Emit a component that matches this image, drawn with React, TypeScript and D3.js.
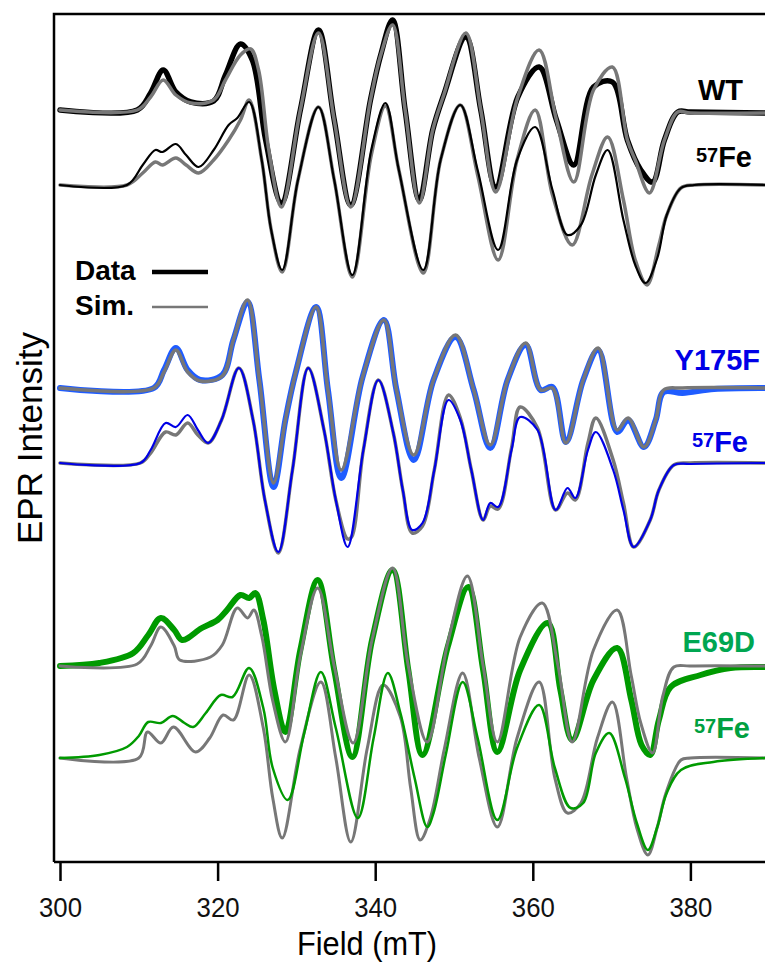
import React, { useEffect, useRef } from "react";
import * as d3 from "d3";

// X-band EPR spectra: data vs. simulation for WT, Y175F and E69D (natural and 57Fe)

type Pt = [number, number]; // [field mT, intensity a.u. relative to trace baseline]

const xTicks = [300, 320, 340, 360, 380];

const wtData: Pt[] = [
  [300, 0], [309.8, 0], [311.5, 1.7], [313.1, 4.0], [314.7, 1.8], [316.6, 0.8], [319.5, 0.9],
  [321.0, 3.5], [322.9, 6.6], [324.4, 5.0], [326.1, -3.0], [328.1, -9.3], [330.5, 0], [332.8, 8.0],
  [334.8, -1.0], [336.9, -9.5], [339.4, 1.0], [340.7, 5.5], [342.2, 9.0], [343.8, 0], [345.6, -9.0],
  [347.3, -2.0], [348.7, 1.5], [351.5, 7.3], [353.4, 0], [355.3, -7.7], [358.1, 1.3], [360.8, 4.3],
  [363.0, -1.0], [365.2, -5.5], [367.7, 2.3], [370.1, 2.8], [372.0, -3.0], [373.7, -6.0],
  [375.2, -7.2], [376.7, -3.0], [378.4, -0.2], [380.0, -0.2], [389.5, -0.3],
];

const wtSim: Pt[] = [
  [300, 0], [309.8, 0], [311.5, 1.3], [313.1, 3.0], [314.7, 1.5], [316.6, 0.7], [319.5, 1.0],
  [321.0, 3.0], [322.9, 5.5], [324.2, 6.1], [325.2, 4.0], [326.5, -4.0], [328.1, -9.7], [330.5, 0],
  [332.8, 7.7], [334.8, -1.0], [336.9, -9.7], [339.4, 1.0], [340.7, 5.5], [342.2, 8.5], [343.8, 0],
  [345.6, -9.3], [347.3, -2.0], [348.7, 1.5], [351.5, 7.7], [353.4, 0], [355.3, -8.2], [358.1, 1.3],
  [360.8, 6.0], [363.0, -1.0], [365.2, -7.2], [367.7, 2.0], [370.1, 4.3], [372.0, -3.0],
  [373.0, -5.0], [374.8, -8.3], [376.7, -3.0], [378.4, -0.2], [380.0, -0.3], [389.5, -0.3],
];

const wtFeData: Pt[] = [
  [300, 0], [308.5, 0], [310.5, 2.0], [312.1, 3.5], [313.0, 3.3], [314.7, 4.1], [316.0, 3.0],
  [317.6, 1.8], [319.5, 3.5], [321.4, 6.0], [322.5, 6.7], [324.0, 8.3], [325.6, 2.5], [326.8, -4.5],
  [328.2, -8.5], [330.2, 0.5], [332.8, 7.8], [334.8, 0.5], [337.1, -9.0], [339.5, 3.5], [341.3, 8.2],
  [343.0, 1.5], [346.1, -8.5], [348.3, 2.5], [350.8, 8.0], [353.0, 1.5], [355.6, -6.5], [358.0, 2.5],
  [360.3, 5.8], [362.5, -0.5], [364.4, -5.0], [366.1, -4.0], [368.0, 1.0], [369.5, 3.5],
  [371.5, -3.5], [373.0, -8.0], [374.3, -9.8], [375.8, -7.3], [377.0, -3.0], [378.8, -0.3],
  [380.5, 0], [389.5, 0],
];

const wtFeSim: Pt[] = [
  [300, 0], [308.5, 0], [310.5, 1.2], [312.1, 2.3], [313.0, 2.0], [314.7, 2.7], [316.0, 2.0],
  [317.6, 1.2], [319.5, 2.5], [321.4, 4.5], [322.9, 6.5], [324.0, 8.5], [325.6, 2.5], [326.8, -4.5],
  [328.2, -8.7], [330.2, 0.5], [332.8, 7.8], [334.8, 0.5], [337.1, -9.2], [339.5, 3.0], [341.3, 7.9],
  [343.0, 1.5], [346.1, -8.8], [348.3, 2.5], [350.8, 8.0], [353.0, 1.0], [355.6, -7.5], [358.0, 2.5],
  [360.3, 7.5], [362.5, -1.0], [365.0, -6.0], [367.5, 1.0], [369.5, 4.8], [371.5, -1.5],
  [373.0, -7.5], [374.5, -10.0], [376.0, -6.0], [377.0, -3.0], [378.8, -0.3], [380.5, 0], [389.5, 0],
];

const yData: Pt[] = [
  [300, 0], [311.9, 0], [313.2, 1.8], [314.7, 4.0], [316.2, 1.8], [317.8, 0.8], [320.6, 1.3],
  [322.0, 4.8], [323.8, 8.6], [325.3, 0.8], [327.1, -9.9], [328.6, -3.2], [329.9, 1.5], [332.5, 8.1],
  [334.0, -0.2], [335.7, -9.0], [338.4, 1.1], [341.1, 6.8], [342.7, -0.2], [344.9, -7.2],
  [347.4, 0.8], [350.2, 5.1], [352.5, -0.2], [354.6, -6.0], [356.8, 0.8], [359.1, 4.3], [361.0, -0.2],
  [362.5, 0.1], [364.2, -5.4], [366.4, 0.8], [368.3, 3.8], [370.7, -4.4], [372.1, -3.2],
  [374.1, -5.9], [375.6, -3.2], [376.6, -0.4], [379.0, -0.5], [383.0, -0.1], [389.5, 0],
];

const ySim: Pt[] = [
  [300, 0], [311.9, 0], [313.2, 1.6], [314.7, 3.8], [316.2, 1.6], [317.8, 0.7], [320.6, 1.2],
  [322.0, 4.8], [323.8, 8.8], [325.3, 0.8], [327.1, -9.5], [328.6, -3.2], [329.9, 1.5], [332.5, 8.1],
  [334.0, -0.2], [335.7, -8.2], [338.4, 1.1], [341.1, 6.8], [342.7, -0.2], [344.9, -6.7],
  [347.4, 0.8], [350.2, 5.3], [352.5, -0.2], [354.6, -5.7], [356.8, 0.8], [359.1, 4.5], [361.0, -0.2],
  [362.5, 0.0], [364.2, -5.5], [366.4, 0.8], [368.3, 4.0], [370.7, -4.2], [372.1, -3.0],
  [374.1, -5.9], [375.6, -3.2], [376.6, -0.2], [379.0, 0], [389.5, 0],
];

const yFeData: Pt[] = [
  [300, 0], [310.2, 0], [311.5, 1.3], [313.4, 4.0], [314.7, 3.6], [316.2, 4.8], [317.5, 3.3],
  [318.8, 2.0], [320.5, 4.3], [322.7, 9.5], [324.5, 4.3], [326.0, -3.7], [327.7, -8.9], [329.5, -0.7],
  [331.5, 9.5], [333.5, 3.3], [335.0, -3.7], [336.5, -8.4], [338.5, 1.3], [340.4, 8.3], [342.3, 3.0],
  [343.5, -2.7], [344.7, -6.7], [346.0, -6.0], [347.5, -0.7], [349.3, 6.3], [350.8, 4.3],
  [352.2, -0.7], [353.7, -5.7], [354.6, -4.0], [355.6, -4.4], [357.3, 1.3], [358.4, 4.6],
  [360.6, 3.3], [362.9, -4.7], [364.4, -2.5], [365.4, -3.5], [367.0, 1.3], [368.0, 3.1],
  [370.2, -0.7], [371.5, -4.7], [372.8, -8.4], [374.9, -5.7], [376.0, -2.7], [377.9, -0.2],
  [380.0, -0.1], [389.5, 0],
];

const yFeSim: Pt[] = [
  [300, 0], [310.2, 0], [311.5, 1.0], [313.4, 3.1], [314.7, 2.8], [316.2, 4.0], [317.5, 2.8],
  [318.8, 2.0], [320.5, 4.3], [322.7, 9.5], [324.5, 4.3], [326.0, -3.7], [327.7, -9.0], [329.5, -0.7],
  [331.5, 9.5], [333.5, 3.3], [335.0, -3.7], [336.5, -7.6], [337.0, -7.4], [338.5, 1.3], [340.4, 8.3],
  [342.3, 3.0], [343.5, -2.7], [344.7, -7.0], [346.0, -6.3], [347.5, -0.7], [349.3, 6.8],
  [350.8, 4.5], [352.2, -0.7], [353.7, -5.7], [354.6, -4.3], [355.6, -4.6], [357.3, 1.5],
  [358.4, 5.6], [360.6, 3.5], [362.9, -4.7], [364.4, -3.0], [365.4, -3.7], [367.0, 2.0], [368.0, 4.5],
  [370.2, 0.3], [371.5, -4.0], [372.8, -8.4], [374.9, -5.7], [376.0, -2.7], [377.9, -0.2],
  [380.0, 0], [389.5, 0],
];

const eData: Pt[] = [
  [300, 0], [305.0, 0.3], [309.3, 1.3], [311.2, 3.1], [312.8, 4.8], [314.5, 3.6], [315.5, 2.6],
  [318.0, 3.8], [320.0, 4.6], [321.2, 5.6], [322.9, 7.1], [324.0, 6.8], [324.8, 7.3], [325.8, 4.6],
  [327.2, -2.4], [328.6, -6.6], [330.5, 1.6], [332.7, 8.6], [334.8, -0.4], [337.1, -9.1],
  [339.6, 2.6], [342.2, 9.6], [344.2, -0.4], [346.0, -8.9], [349.2, 1.9], [351.8, 7.9],
  [353.7, -0.4], [355.5, -8.6], [358.4, -0.4], [361.9, 4.3], [363.5, -2.4], [365.0, -7.4],
  [367.7, -1.4], [370.7, 1.8], [372.5, -3.4], [373.8, -7.9], [374.9, -8.9], [376.0, -5.4],
  [377.5, -2.1], [381.3, -0.9], [385.1, -0.2], [389.5, -0.1],
];

const eSim: Pt[] = [
  [300, 0], [309.8, 0.2], [311.5, 2.0], [312.8, 3.9], [314.5, 2.0], [315.2, 0.6], [319.1, 0.9],
  [320.6, 2.1], [322.5, 5.8], [323.8, 4.8], [324.6, 5.6], [325.6, 3.0], [327.0, -3.5], [328.6, -7.6],
  [330.5, 1.0], [332.7, 7.8], [334.8, 0], [337.2, -7.7], [339.6, 2.6], [342.2, 9.8], [344.2, 0],
  [346.6, -7.6], [349.2, 2.3], [351.7, 9.0], [353.7, 0], [355.5, -7.6], [358.4, 2.9], [361.2, 6.3],
  [363.2, 0], [365.0, -7.6], [367.7, 1.6], [370.7, 5.6], [372.5, -1.0], [373.7, -5.7],
  [375.2, -8.7], [376.5, -3.0], [377.9, -0.1], [380.0, 0], [389.5, 0],
];

const eFeData: Pt[] = [
  [300, 0], [305.0, 0.3], [308.5, 1.1], [310.0, 2.2], [311.2, 3.6], [312.8, 3.5], [314.3, 4.2],
  [315.8, 3.5], [316.9, 3.1], [318.5, 4.5], [320.4, 6.3], [321.9, 6.1], [324.0, 9.0], [325.8, 5.0],
  [327.0, -1.0], [328.9, -4.2], [331.0, 2.5], [333.1, 8.6], [335.0, 3.0], [337.8, -6.0],
  [339.8, 2.0], [341.6, 8.5], [343.2, 4.5], [345.0, -2.0], [346.6, -6.9], [347.4, -5.5],
  [349.0, 0.5], [351.1, 7.6], [353.0, 2.0], [355.5, -6.2], [358.0, 1.0], [360.8, 5.3],
  [362.8, -1.0], [364.8, -5.0], [366.4, -4.5], [368.0, 0.5], [369.7, 2.5], [371.7, -2.0],
  [373.2, -6.5], [374.6, -9.2], [375.8, -6.9], [377.0, -3.5], [378.8, -1.2], [382.9, -0.4],
  [389.5, 0],
];

const eFeSim: Pt[] = [
  [300, 0], [310.0, 0], [311.1, 2.6], [312.8, 1.5], [314.4, 3.1], [317.2, 0.6], [319.0, 2.0],
  [320.7, 4.3], [322.0, 3.8], [324.0, 8.3], [325.8, 3.0], [327.0, -4.0], [328.2, -8.0], [330.5, 1.0],
  [333.1, 7.6], [335.0, 0], [336.9, -8.4], [339.0, 1.0], [341.0, 7.3], [343.2, 4.1], [344.5, -3.0],
  [345.7, -8.2], [347.0, -6.0], [348.8, 1.0], [351.1, 8.5], [353.2, 0], [355.5, -6.9], [358.0, 2.0],
  [360.8, 7.6], [362.8, -2.0], [364.4, -5.5], [366.1, -4.5], [368.2, 2.0], [370.1, 5.6],
  [371.9, -2.0], [373.2, -7.0], [374.6, -9.7], [375.8, -6.9], [376.9, -3.5], [378.8, -0.2],
  [380.0, 0], [389.5, 0],
];

// vertical offset of each trace (same units as intensity)
const traceOffsets = [75.2, 67.7, 47.4, 39.9, 19.6, 10.4];

const GRAY = "#777777";

const App = () => {
  const svgRef = useRef<SVGSVGElement>(null);

  useEffect(() => {
    const width = 765;
    const left = 54;
    const top = 14;
    const bottom = 862;

    const svg = d3.select(svgRef.current);
    svg.selectAll("*").remove();

    const x = d3.scaleLinear().domain([300, 390]).range([60, 60 + 90 * 7.88]);
    const y = d3.scaleLinear().domain([0, 84.8]).range([bottom, top]);

    const font = "'Liberation Sans', Arial, sans-serif";

    // draw order: thick data under sim, thin 57Fe data over sim
    const traces = [
      { pts: wtData, off: traceOffsets[0], color: "#000000", w: 5.5 },
      { pts: wtSim, off: traceOffsets[0], color: GRAY, w: 3.5 },
      { pts: wtFeSim, off: traceOffsets[1], color: GRAY, w: 3.5 },
      { pts: wtFeData, off: traceOffsets[1], color: "#000000", w: 2.2 },
      { pts: yData, off: traceOffsets[2], color: "#1f5cff", w: 6 },
      { pts: ySim, off: traceOffsets[2], color: GRAY, w: 3.5 },
      { pts: yFeSim, off: traceOffsets[3], color: GRAY, w: 3.5 },
      { pts: yFeData, off: traceOffsets[3], color: "#0000e6", w: 2.2 },
      { pts: eData, off: traceOffsets[4], color: "#009a00", w: 6 },
      { pts: eSim, off: traceOffsets[4], color: GRAY, w: 3 },
      { pts: eFeSim, off: traceOffsets[5], color: GRAY, w: 3 },
      { pts: eFeData, off: traceOffsets[5], color: "#009a00", w: 2.5 },
    ];

    const g = svg.append("g");
    traces.forEach(t => {
      const line = d3.line<Pt>()
        .x(d => x(d[0]))
        .y(d => y(t.off + d[1]))
        .curve(d3.curveCatmullRom.alpha(0.5));
      g.append("path")
        .attr("d", line(t.pts))
        .attr("fill", "none")
        .attr("stroke", t.color)
        .attr("stroke-width", t.w)
        .attr("stroke-linejoin", "round")
        .attr("stroke-linecap", "round");
    });

    // frame: left, top, bottom
    svg.append("path")
      .attr("d", `M${left},${bottom}V${top}H${width}M${left},${bottom}H${width}`)
      .attr("fill", "none")
      .attr("stroke", "#000")
      .attr("stroke-width", 2.5);

    const xAxis = svg.append("g")
      .attr("transform", `translate(0,${bottom})`)
      .call(d3.axisBottom(x).tickValues(xTicks).tickSize(19).tickPadding(17).tickFormat(d3.format("d")));
    xAxis.select(".domain").remove();
    xAxis.selectAll("line").attr("stroke", "#000").attr("stroke-width", 2.5);
    xAxis.selectAll("text")
      .attr("font-size", 27)
      .attr("font-family", font)
      .attr("fill", "#111")
      .attr("textLength", 43)
      .attr("lengthAdjust", "spacingAndGlyphs");

    svg.append("text")
      .attr("x", 367)
      .attr("y", 955)
      .attr("text-anchor", "middle")
      .attr("font-family", font)
      .attr("font-size", 33)
      .attr("textLength", 140)
      .attr("lengthAdjust", "spacingAndGlyphs")
      .text("Field (mT)");

    svg.append("text")
      .attr("transform", "translate(42,438) rotate(-90)")
      .attr("text-anchor", "middle")
      .attr("font-family", font)
      .attr("font-size", 35)
      .text("EPR Intensity");

    // legend
    const legend = [
      { label: "Data", color: "#000", w: 4.5, ty: 280, ly: 272 },
      { label: "Sim.", color: GRAY, w: 2.5, ty: 315, ly: 307 },
    ];
    legend.forEach(l => {
      svg.append("text")
        .attr("x", 75).attr("y", l.ty)
        .attr("font-family", font).attr("font-weight", "bold").attr("font-size", 28)
        .text(l.label);
      svg.append("line")
        .attr("x1", 152).attr("x2", 208).attr("y1", l.ly).attr("y2", l.ly)
        .attr("stroke", l.color).attr("stroke-width", l.w);
    });

    // trace labels
    const names = [
      { text: "WT", x: 743, y: 100, color: "#000" },
      { text: "Y175F", x: 760, y: 370, color: "#0000e6" },
      { text: "E69D", x: 755, y: 652, color: "#00a651" },
    ];
    names.forEach(n => {
      svg.append("text")
        .attr("x", n.x).attr("y", n.y)
        .attr("text-anchor", "end")
        .attr("font-family", font).attr("font-weight", "bold").attr("font-size", 29)
        .attr("fill", n.color)
        .text(n.text);
    });

    const isoLabels = [
      { x: 752, y: 167, color: "#000" },
      { x: 748, y: 452, color: "#0000e6" },
      { x: 750, y: 738, color: "#00a040" },
    ];
    isoLabels.forEach(n => {
      const t = svg.append("text")
        .attr("x", n.x).attr("y", n.y)
        .attr("text-anchor", "end")
        .attr("font-family", font).attr("font-weight", "bold")
        .attr("fill", n.color);
      t.append("tspan").attr("font-size", 20).attr("dy", -5.5).text("57");
      t.append("tspan").attr("font-size", 29).attr("dy", 5.5).text("Fe");
    });
  }, []);

  return (
    <svg
      ref={svgRef}
      width={765}
      height={969}
      style={{ position: "absolute", left: 0, top: 0, background: "#fff" }}
    />
  );
};

export default App;
